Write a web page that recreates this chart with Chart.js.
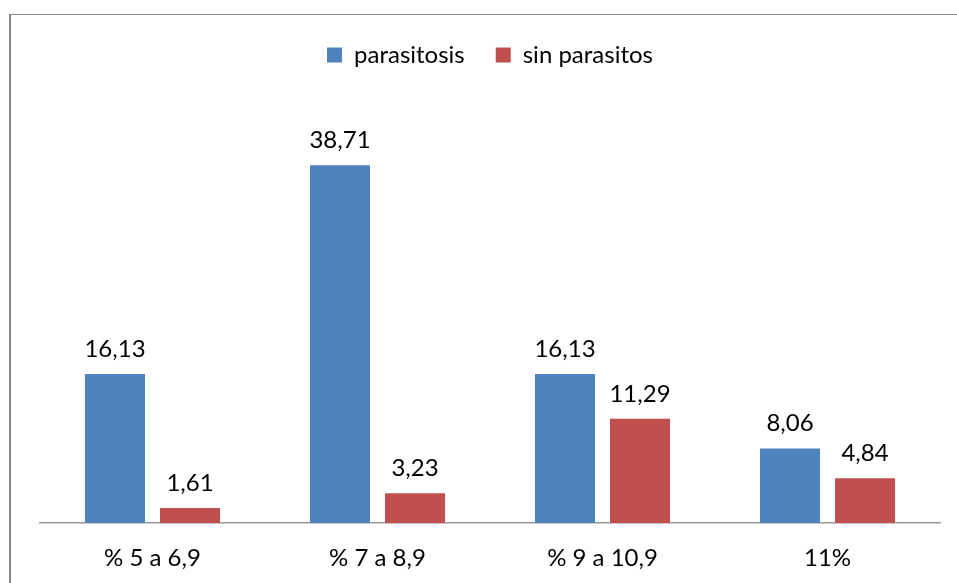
<!DOCTYPE html>
<html>
<head>
<meta charset="utf-8">
<script src="https://cdn.jsdelivr.net/npm/chart.js@4/dist/chart.umd.min.js"></script>
<style>
html,body{margin:0;padding:0;background:#fff;}
#wrap{width:957px;height:583px;position:relative;}
</style>
</head>
<body>
<div id="wrap"><canvas id="c" width="957" height="583"></canvas></div>
<script>
const categories = ['% 5 a 6,9', '% 7 a 8,9', '% 9 a 10,9', '11%'];
const parasitosis = [16.13, 38.71, 16.13, 8.06];
const sinParasitos = [1.61, 3.23, 11.29, 4.84];
const seriesNames = ['parasitosis', 'sin parasitos'];
const yMax = 45;

const FONT = 'Lato';

const frame = {
  id: 'frame',
  beforeDraw(chart) {
    const ctx = chart.ctx;
    ctx.save();
    ctx.fillStyle = '#ffffff';
    ctx.fillRect(0, 0, chart.width, chart.height);
    ctx.fillStyle = '#888888';
    ctx.fillRect(9, 14, 2, chart.height - 14);
    ctx.fillRect(9, 14, chart.width - 9, 1);
    ctx.restore();
  }
};

const valueLabels = {
  id: 'valueLabels',
  afterDatasetsDraw(chart) {
    const ctx = chart.ctx;
    ctx.save();
    ctx.font = '24px ' + FONT;
    ctx.fillStyle = '#000000';
    ctx.textAlign = 'center';
    ctx.textBaseline = 'alphabetic';
    chart.data.datasets.forEach((ds, i) => {
      const meta = chart.getDatasetMeta(i);
      meta.data.forEach((el, j) => {
        const txt = ds.data[j].toFixed(2).replace('.', ',');
        ctx.fillText(txt, el.x, el.y - 17);
      });
    });
    ctx.restore();
  }
};

const legendHeight = {
  id: 'legendHeight',
  beforeInit(chart) {
    const origFit = chart.legend.fit;
    chart.legend.fit = function () {
      origFit.bind(chart.legend)();
      this.height = 95;
    };
  }
};

new Chart(document.getElementById('c'), {
  type: 'bar',
  data: {
    labels: categories,
    datasets: [
      { label: seriesNames[0], data: parasitosis, backgroundColor: '#4F81BD', categoryPercentage: 0.667, barPercentage: 0.8 },
      { label: seriesNames[1], data: sinParasitos, backgroundColor: '#C0504D', categoryPercentage: 0.667, barPercentage: 0.8 }
    ]
  },
  options: {
    responsive: false,
    animation: false,
    layout: { padding: { left: 40, right: 17, top: 12, bottom: 0 } },
    plugins: {
      legend: {
        position: 'top',
        labels: {
          boxWidth: 15, boxHeight: 15, padding: 31,
          color: '#000000',
          font: { family: FONT, size: 24 }
        }
      },
      tooltip: { enabled: false }
    },
    scales: {
      x: {
        grid: { display: false },
        border: { display: true, color: '#989898', width: 1.5 },
        ticks: { color: '#000000', font: { family: FONT, size: 24 }, padding: 13 },
        afterFit(scale) { scale.height = 60; }
      },
      y: {
        display: false,
        min: 0, max: yMax
      }
    }
  },
  plugins: [frame, legendHeight, valueLabels]
});
</script>
</body>
</html>
